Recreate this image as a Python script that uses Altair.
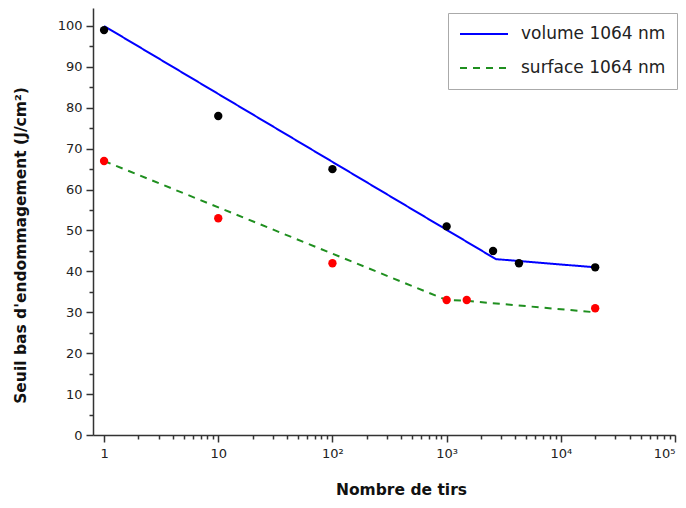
import altair as alt
import pandas as pd

# measured points
vol_x = [1, 10, 100, 1000, 2550, 4300, 20000]
vol_y = [99, 78, 65, 51, 45, 42, 41]
surf_x = [1, 10, 100, 1000, 1500, 20000]
surf_y = [67, 53, 42, 33, 33, 31]

# fitted curves
vol_fit_x = [1, 2700, 20000]
vol_fit_y = [100, 43, 41]
surf_fit_x = [1, 1000, 1500, 5000, 20000]
surf_fit_y = [67, 33, 32.8, 31.5, 30]

series_names = ["volume 1064 nm", "surface 1064 nm"]
line_colors = ["#0000ff", "#1f8f1f"]
point_colors = ["#000000", "#ff0000"]

x_major = [1, 10, 100, 1000, 10000, 100000]
x_minor = [m * 10 ** k for k in range(5) for m in range(2, 10)]
x_ticks = x_major + x_minor
y_ticks = list(range(0, 101, 5))

fit_df = pd.DataFrame(
    [{"series": series_names[0], "x": a, "y": b} for a, b in zip(vol_fit_x, vol_fit_y)]
    + [{"series": series_names[1], "x": a, "y": b} for a, b in zip(surf_fit_x, surf_fit_y)]
)
pts_df = pd.DataFrame(
    [{"col": point_colors[0], "x": a, "y": b} for a, b in zip(vol_x, vol_y)]
    + [{"col": point_colors[1], "x": a, "y": b} for a, b in zip(surf_x, surf_y)]
)

FONT = "DejaVu Sans"

x_label_expr = (
    "datum.value == 1 ? '1' : datum.value == 10 ? '10' : datum.value == 100 ? '10\u00b2' : "
    "datum.value == 1000 ? '10\u00b3' : datum.value == 10000 ? '10\u2074' : "
    "datum.value == 100000 ? '10\u2075' : ''"
)

x_axis = alt.Axis(
    values=x_ticks,
    labelExpr=x_label_expr,
    title="Nombre de tirs",
    grid=False,
    tickSize={"condition": {"test": "indexof([1,10,100,1000,10000,100000], datum.value) >= 0", "value": 7}, "value": 4},
    labelPadding=5,
    labelFlush=True,
    labelOverlap=False,
    titleX=308,
    titleY=47,
    titleBaseline="top",
)
y_axis = alt.Axis(
    values=y_ticks,
    labelExpr="datum.value % 10 == 0 ? datum.label : ''",
    title="Seuil bas d'endommagement (J/cm\u00b2)",
    grid=False,
    tickSize={"condition": {"test": "datum.value % 10 == 0", "value": 7}, "value": 4},
    labelPadding=4,
    labelOverlap=False,
    titleX=-65,
    titleY=237,
)

xscale = alt.Scale(type="log", domain=[0.8, 100000])
yscale = alt.Scale(domain=[0, 104.4], nice=False, zero=True)

leg = alt.Legend(
    title=None,
    orient="none",
    legendX=355,
    legendY=5,
    symbolType="stroke",
    symbolSize=2304,
    symbolStrokeWidth=2,
    clipHeight=20,
    labelFontSize=17,
    labelFont=FONT,
    labelColor="#222222",
    labelOffset=12,
    rowPadding=14,
    padding=11,
    strokeColor="#aaaaaa",
    fillColor="white",
)

lines = alt.Chart(fit_df).mark_line(strokeWidth=2).encode(
    x=alt.X("x:Q", scale=xscale, axis=x_axis),
    y=alt.Y("y:Q", scale=yscale, axis=y_axis),
    color=alt.Color("series:N", scale=alt.Scale(domain=series_names, range=line_colors), legend=leg, sort=series_names),
    strokeDash=alt.StrokeDash("series:N", scale=alt.Scale(domain=series_names, range=[[1, 0], [7, 6]]), legend=leg, sort=series_names),
)

points = alt.Chart(pts_df).mark_circle(size=70, opacity=1).encode(
    x=alt.X("x:Q", scale=xscale, axis=x_axis),
    y=alt.Y("y:Q", scale=yscale, axis=y_axis),
    color=alt.Color("col:N", scale=None),
)

chart = (
    alt.layer(lines, points)
    .properties(
        width=582,
        height=427,
        autosize=alt.AutoSizeParams(type="none"),
        padding={"left": 85, "top": 0, "right": 3, "bottom": 65},
    )
    .configure_view(stroke=None)
    .configure_axis(
        domainColor="#333333",
        domainWidth=1.5,
        tickColor="#333333",
        tickWidth=1.5,
        labelFont=FONT,
        labelFontSize=13,
        labelColor="#222222",
        titleFont=FONT,
        titleFontSize=15.5,
        titleFontWeight="bold",
        titleColor="#111111",
    )
)

chart.save("out.html", embed_options={"renderer": "svg", "actions": False})
